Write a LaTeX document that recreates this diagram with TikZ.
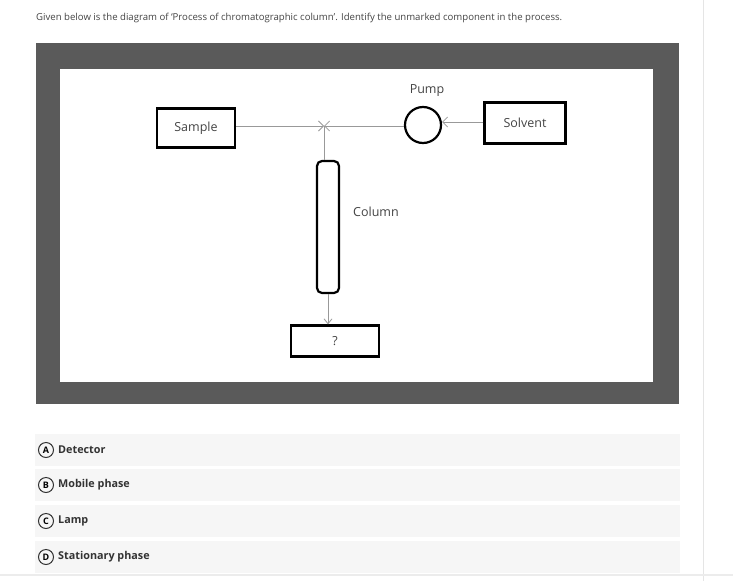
\documentclass[tikz,border=0pt]{standalone}
\usepackage{fontspec}
\setmainfont{Open Sans}
\usetikzlibrary{arrows.meta,positioning}
\definecolor{frame}{HTML}{5A5A5A}
\definecolor{row}{HTML}{F6F6F6}
\definecolor{txt}{HTML}{444444}
\begin{document}
\begin{tikzpicture}[x=1pt,y=-1pt,
  blk/.style={draw=black,line width=2.2pt},
  lbl/.style={text=txt,font=\fontsize{12.5}{14}\selectfont},
  conn/.style={draw=gray!80,line width=0.8pt},
  optc/.style={circle,draw=black!80,line width=1pt,inner sep=0pt,minimum size=15pt,font=\fontsize{9}{10}\selectfont\bfseries},
  optt/.style={anchor=west,inner sep=0pt,font=\fontsize{10.8}{12}\selectfont\bfseries,text=black!80}]
\useasboundingbox (0,0) rectangle (733,581);
\fill[white] (0,0) rectangle (733,581);
\node[anchor=west,inner sep=0pt,font=\fontsize{9.6}{11}\selectfont,text=txt] (q) at (36,18) {Given below is the diagram of ‘Process of chromatographic column’. Identify the unmarked component in the process.};
\draw[gray!20,line width=0.8pt] (703,0) -- (703,581);
\fill[frame] (36,43) rectangle (679,404);
\fill[white] (60,69) rectangle (653,382);
% diagram
\node[blk,minimum width=78pt,minimum height=39pt,lbl] (sample) at (196,128) {Sample};
\node[blk,minimum width=81pt,minimum height=41pt,lbl] (solvent) at (525,123) {Solvent};
\node[circle,draw=black,line width=2.2pt,minimum size=36pt,inner sep=0pt] (pump) at (423,125) {};
\node[lbl] (pumpl) at (427,91) {Pump};
\node[draw=black,line width=2.2pt,rounded corners=5pt,minimum width=22pt,minimum height=132pt] (col) at (328,227) {};
\node[lbl] (coll) at (376,212) {Column};
\node[blk,minimum width=88pt,minimum height=31pt,lbl] (det) at (335,341) {?};
\coordinate (j) at (324,126);
\draw[conn,-{Straight Barb[length=5pt,width=10pt]}] (sample.east|-j) -- (j);
\draw[conn,-{Straight Barb[length=5pt,width=10pt]}] (pump.west|-j) -- (j);
\draw[conn,-{Straight Barb[length=5pt,width=10pt]}] (solvent.west|-0,122) -- (pump.east|-0,122);
\draw[conn] (j) -- (j|-col.north);
\draw[conn,-{Straight Barb[length=5pt,width=8pt]}] (col.south) -- (col.south|-det.north);
% options
\foreach \y/\l/\t [count=\i] in {450/A/Detector,485/B/Mobile phase,521/C/Lamp,557/D/Stationary phase}{
  \fill[row] (35,\y-16) rectangle (680,\y+16);
  \node[optc] (o\i) at (46,\y) {\l};
  \node[optt] (t\i) at (58,\y) {\t};
}
\draw[gray!15,line width=2pt] (0,575) -- (733,575);
\end{tikzpicture}
\end{document}
